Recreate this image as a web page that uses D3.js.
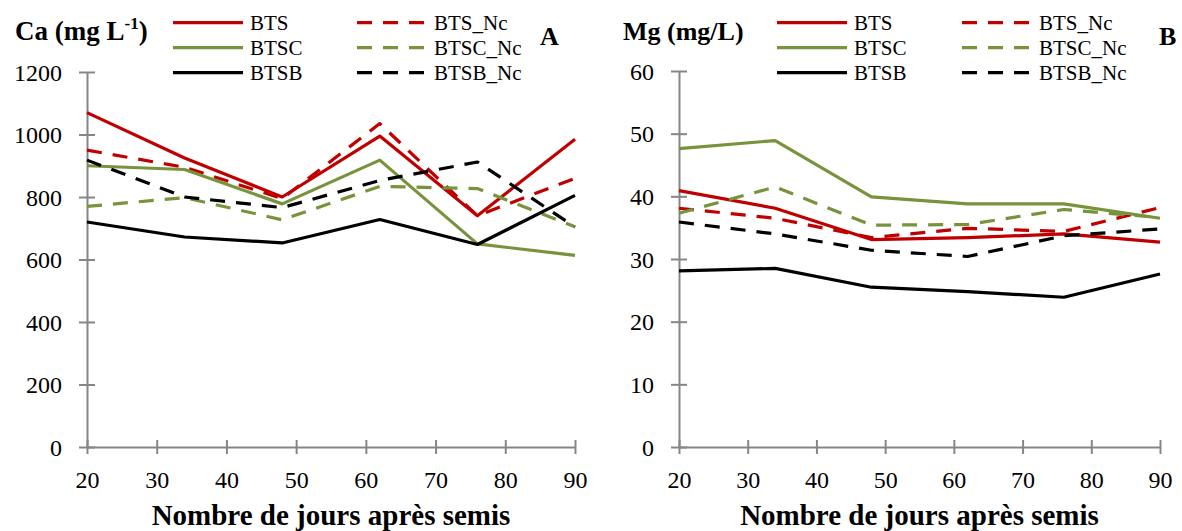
<!DOCTYPE html>
<html>
<head>
<meta charset="utf-8">
<script src="https://cdn.jsdelivr.net/npm/d3@7"></script>
<style>
  html, body { margin: 0; padding: 0; background: #fff; }
  svg { display: block; }
  text { font-family: "Liberation Serif", "Times New Roman", serif; fill: #000; }
</style>
</head>
<body>
<svg id="chart" width="1182" height="531"></svg>
<script>
// ---- Data ----
const days = [20, 34, 48, 62, 76, 90];
const xTicks = [20, 30, 40, 50, 60, 70, 80, 90];
const seriesNames = ["BTS", "BTS_Nc", "BTSC", "BTSC_Nc", "BTSB", "BTSB_Nc"];

const caBTS     = [1070, 925, 800, 995, 740, 985];
const caBTS_Nc  = [950, 895, 795, 1035, 740, 860];
const caBTSC    = [900, 888, 778, 918, 650, 613];
const caBTSC_Nc = [770, 798, 727, 834, 827, 705];
const caBTSB    = [720, 672, 653, 728, 648, 805];
const caBTSB_Nc = [918, 800, 766, 853, 912, 704];
const caTicks   = [0, 200, 400, 600, 800, 1000, 1200];

const mgBTS     = [40.9, 38.1, 33.1, 33.4, 34.0, 32.7];
const mgBTS_Nc  = [38.1, 36.5, 33.4, 34.9, 34.4, 38.2];
const mgBTSC    = [47.6, 48.9, 39.9, 38.8, 38.8, 36.5];
const mgBTSC_Nc = [37.3, 41.5, 35.4, 35.5, 37.9, 36.6];
const mgBTSB    = [28.1, 28.5, 25.5, 24.8, 23.9, 27.6];
const mgBTSB_Nc = [35.9, 34.0, 31.4, 30.4, 33.7, 34.8];
const mgTicks   = [0, 10, 20, 30, 40, 50, 60];

// ---- Styles ----
const styles = {
  "BTS":     { color: "#C00000", dash: null },
  "BTS_Nc":  { color: "#C00000", dash: "15,11" },
  "BTSC":    { color: "#77933C", dash: null },
  "BTSC_Nc": { color: "#77933C", dash: "15,11" },
  "BTSB":    { color: "#000000", dash: null },
  "BTSB_Nc": { color: "#000000", dash: "15,11" }
};

const FONT = '"Liberation Serif", "Times New Roman", serif';
const svg = d3.select("#chart");
const axisColor = "#868686";

function panel(opts) {
  const g = svg.append("g");
  const x = d3.scaleLinear().domain([20, 90]).range([opts.x0, opts.x1]);
  const y = d3.scaleLinear().domain([0, opts.ymax]).range([opts.y0, opts.y1]);

  // y axis (ticks crossing)
  const yAx = g.append("g").attr("transform", `translate(${opts.x0},0)`)
    .call(d3.axisLeft(y).tickValues(opts.yTicks).tickFormat(d3.format("d"))
      .tickSizeInner(8).tickSizeOuter(0).tickPadding(17));
  yAx.attr("font-family", null).attr("font-size", null);
  yAx.select(".domain").attr("stroke", axisColor).attr("stroke-width", 2);
  yAx.selectAll(".tick line").attr("stroke", axisColor).attr("stroke-width", 2).attr("x2", 8).attr("x1", -8);
  yAx.selectAll(".tick text").style("font-size", "24px").style("font-family", FONT).attr("fill", "#000").attr("dy", "0.34em");

  // x axis
  const xAx = g.append("g").attr("transform", `translate(0,${opts.y0})`)
    .call(d3.axisBottom(x).tickValues(xTicks).tickFormat(d3.format("d"))
      .tickSizeInner(7).tickSizeOuter(0).tickPadding(17));
  xAx.attr("font-family", null).attr("font-size", null);
  xAx.select(".domain").attr("stroke", axisColor).attr("stroke-width", 2);
  xAx.selectAll(".tick line").attr("stroke", axisColor).attr("stroke-width", 2).attr("y1", -7).attr("y2", 7);
  xAx.selectAll(".tick text").style("font-size", "24px").style("font-family", FONT).attr("fill", "#000");

  const line = d3.line().x((d, i) => x(days[i])).y(d => y(d));
  seriesNames.forEach((name, k) => {
    g.append("path")
      .datum(opts.data[k])
      .attr("d", line)
      .attr("fill", "none")
      .attr("stroke", styles[name].color)
      .attr("stroke-width", 3.2)
      .attr("stroke-linejoin", "round")
      .attr("stroke-dasharray", styles[name].dash);
  });

  // x title
  g.append("text")
    .attr("x", (opts.x0 + opts.x1) / 2).attr("y", 525)
    .attr("text-anchor", "middle").attr("font-weight", "bold").style("font-size", "29px")
    .text("Nombre de jours après semis");

  // y title
  const t = g.append("text").attr("x", opts.titleX).attr("y", 40)
    .attr("font-weight", "bold").style("font-size", opts.titleSize + "px");
  opts.title(t);

  // panel letter
  g.append("text").attr("x", opts.letterX).attr("y", 45)
    .attr("font-weight", "bold").style("font-size", "26px").text(opts.letter);

  // legend
  const rows = [22.7, 47.7, 72.7];
  seriesNames.forEach((name, k) => {
    const col = k % 2, row = Math.floor(k / 2);
    const lx = col === 0 ? opts.legX0 : opts.legX1;
    g.append("line")
      .attr("x1", lx).attr("x2", lx + 70)
      .attr("y1", rows[row]).attr("y2", rows[row])
      .attr("stroke", styles[name].color).attr("stroke-width", 3.2)
      .attr("stroke-dasharray", styles[name].dash);
    g.append("text").attr("x", lx + 77).attr("y", rows[row] + 7)
      .style("font-size", "21px").text(name);
  });
}

panel({
  x0: 87, x1: 575, y0: 447, y1: 72, ymax: 1200, yTicks: caTicks,
  data: [caBTS, caBTS_Nc, caBTSC, caBTSC_Nc, caBTSB, caBTSB_Nc],
  titleX: 15, titleSize: 27, letter: "A", letterX: 540, legX0: 173, legX1: 357,
  title: t => {
    t.append("tspan").text("Ca (mg L");
    t.append("tspan").style("font-size", "17px").attr("dy", -11).text("-1");
    t.append("tspan").attr("dy", 11).text(")");
  }
});

panel({
  x0: 679, x1: 1160, y0: 447, y1: 71, ymax: 60, yTicks: mgTicks,
  data: [mgBTS, mgBTS_Nc, mgBTSC, mgBTSC_Nc, mgBTSB, mgBTSB_Nc],
  titleX: 623, titleSize: 26, letter: "B", letterX: 1159, legX0: 777, legX1: 962,
  title: t => { t.text("Mg (mg/L)"); }
});
</script>
</body>
</html>
